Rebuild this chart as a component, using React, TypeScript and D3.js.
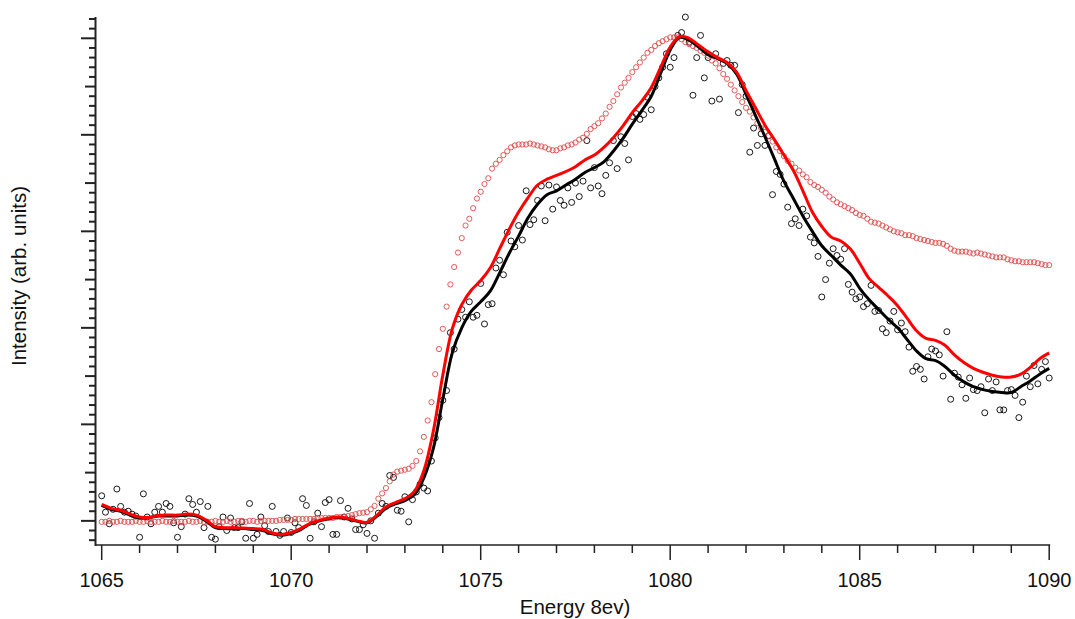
import { useRef, useEffect } from 'react';
import * as d3 from 'd3';

// energy grid: scatter points every 0.1 eV, fitted lines every 0.25 eV
const E_START = 1065;
const xTicksMajor = [1065, 1070, 1075, 1080, 1085, 1090];

// measured spectrum (black open circles)
const sampleCounts = [
  0.26, 0.09, -0.03, 0.12, 0.33, 0.15, 0.09, 0.10, 0.07, 0.05,
  -0.17, 0.28, 0.04, -0.03, 0.09, 0.15, 0.09, 0.18, 0.15, -0.02,
  -0.17, -0.06, 0.07, 0.23, 0.17, 0.09, 0.20, -0.07, 0.15, -0.17,
  -0.19, -0.06, 0.04, -0.10, 0.03, -0.07, -0.07, -0.01, -0.18, 0.18,
  -0.18, -0.14, 0.04, -0.05, -0.11, 0.15, -0.11, -0.15, -0.11, 0.03,
  -0.12, -0.02, -0.07, 0.23, 0.16, -0.18, -0.01, 0.08, -0.06, 0.19,
  0.22, -0.14, -0.14, 0.21, 0.04, 0.13, 0.02, -0.09, -0.09, -0.04,
  -0.13, 0.00, -0.18, 0.08, 0.18, 0.15, 0.47, 0.45, 0.11, 0.10,
  0.25, -0.01, 0.22, 0.30, 0.38, 0.34, 0.31, 0.62, 0.86, 1.07,
  1.25, 1.35, 1.95, 1.78, 2.09, 2.19, 2.11, 2.27, 2.11, 2.13,
  2.46, 2.04, 2.24, 2.25, 2.62, 2.70, 2.55, 2.99, 2.90, 2.84,
  3.06, 2.91, 3.42, 3.07, 3.12, 3.32, 3.47, 3.11, 3.48, 3.23,
  3.46, 3.32, 3.27, 3.45, 3.30, 3.50, 3.36, 3.52, 3.94, 3.45,
  3.66, 3.47, 3.39, 3.58, 3.71, 3.94, 3.65, 3.98, 3.91, 3.74,
  4.19, 4.22, 4.16, 4.21, 4.39, 4.26, 4.50, 4.59, 4.70, 4.84,
  4.70, 4.80, 5.03, 5.06, 5.22, 4.96, 4.41, 4.80, 5.03, 4.59,
  4.80, 4.35, 4.84, 4.37, 4.74, 4.77, 4.72, 4.72, 4.23, 4.52,
  4.40, 3.82, 4.07, 3.89, 4.01, 3.89, 3.99, 3.38, 3.62, 3.59,
  3.49, 3.25, 3.08, 3.13, 3.06, 3.23, 3.16, 2.94, 2.88, 2.74,
  2.32, 2.50, 2.67, 2.82, 2.75, 2.71, 2.82, 2.45, 2.37, 2.30,
  2.32, 2.22, 2.25, 2.44, 2.17, 2.18, 1.99, 1.95, 2.07, 2.17,
  1.98, 2.05, 1.96, 1.80, 1.55, 1.60, 1.57, 1.47, 1.70, 1.78,
  1.76, 1.72, 1.50, 1.96, 1.26, 1.53, 1.49, 1.41, 1.27, 1.48,
  1.36, 1.35, 1.39, 1.12, 1.47, 1.35, 1.44, 1.15, 1.15, 1.35,
  1.36, 1.30, 1.07, 1.23, 1.50, 1.39, 1.61, 1.42, 1.57, 1.65,
  1.48,
];

// reference spectrum (red open circles)
const referenceCounts = [
  -0.01, -0.01, 0.00, -0.01, -0.01, 0.00, -0.01, -0.01, -0.01, 0.00,
  -0.01, -0.01, 0.00, -0.01, -0.01, -0.01, 0.00, -0.01, -0.01, 0.00,
  -0.01, -0.01, -0.01, 0.00, -0.01, -0.01, 0.00, -0.01, -0.01, -0.01,
  0.00, -0.01, -0.01, 0.00, -0.01, -0.01, 0.00, 0.00, -0.01, 0.00,
  0.00, -0.01, 0.00, 0.00, 0.00, 0.00, 0.00, 0.01, 0.01, 0.01,
  0.01, 0.02, 0.02, 0.02, 0.02, 0.02, 0.02, 0.03, 0.03, 0.03,
  0.03, 0.03, 0.04, 0.04, 0.04, 0.05, 0.06, 0.07, 0.08, 0.085,
  0.09, 0.12, 0.155, 0.23, 0.285, 0.34, 0.41, 0.48, 0.51, 0.52,
  0.53, 0.54, 0.57, 0.62, 0.72, 0.87, 1.04, 1.23, 1.52, 1.78,
  1.99, 2.22, 2.45, 2.63, 2.78, 2.93, 3.06, 3.13, 3.24, 3.34,
  3.41, 3.49, 3.55, 3.65, 3.70, 3.74, 3.79, 3.83, 3.87, 3.89,
  3.90, 3.90, 3.90, 3.91, 3.90, 3.89, 3.88, 3.87, 3.85, 3.84,
  3.84, 3.86, 3.87, 3.89, 3.90, 3.92, 3.95, 3.97, 4.01, 4.06,
  4.09, 4.12, 4.17, 4.22, 4.29, 4.35, 4.42, 4.49, 4.54, 4.59,
  4.65, 4.70, 4.75, 4.80, 4.85, 4.88, 4.92, 4.95, 4.97, 4.99,
  5.01, 5.01, 5.01, 4.99, 4.96, 4.94, 4.92, 4.90, 4.87, 4.85,
  4.82, 4.77, 4.74, 4.69, 4.63, 4.58, 4.52, 4.46, 4.40, 4.34,
  4.28, 4.24, 4.18, 4.12, 4.07, 4.03, 3.99, 3.93, 3.87, 3.83,
  3.78, 3.73, 3.70, 3.66, 3.63, 3.59, 3.56, 3.51, 3.48, 3.46,
  3.43, 3.40, 3.36, 3.33, 3.30, 3.28, 3.26, 3.24, 3.22, 3.19,
  3.17, 3.16, 3.13, 3.10, 3.09, 3.08, 3.06, 3.04, 3.02, 3.00,
  2.99, 2.98, 2.96, 2.96, 2.95, 2.93, 2.92, 2.91, 2.90, 2.89,
  2.88, 2.88, 2.87, 2.85, 2.82, 2.80, 2.79, 2.79, 2.79, 2.78,
  2.77, 2.78, 2.77, 2.76, 2.75, 2.74, 2.73, 2.73, 2.73, 2.71,
  2.70, 2.69, 2.69, 2.68, 2.68, 2.68, 2.68, 2.67, 2.66, 2.65,
  2.65,
];

// smoothed fit of the measured spectrum (black line)
const sampleFit = [
  0.16, 0.12, 0.10, 0.06, 0.03, 0.035, 0.05, 0.05, 0.05, 0.06,
  0.05, 0.00, -0.07, -0.08, -0.08, -0.08, -0.09, -0.10, -0.135, -0.15,
  -0.13, -0.09, -0.03, 0.00, 0.025, 0.035, 0.02, -0.005, -0.02, 0.045,
  0.13, 0.175, 0.21, 0.27, 0.445, 0.75, 1.26, 1.74, 2.00, 2.17,
  2.27, 2.38, 2.57, 2.77, 2.95, 3.14, 3.28, 3.38, 3.42, 3.48,
  3.54, 3.61, 3.66, 3.72, 3.83, 3.96, 4.11, 4.25, 4.40, 4.64,
  4.88, 5.01, 4.98, 4.91, 4.83, 4.79, 4.74, 4.63, 4.42, 4.20,
  3.98, 3.75, 3.52, 3.34, 3.16, 3.00, 2.85, 2.75, 2.65, 2.56,
  2.41, 2.29, 2.19, 2.09, 2.00, 1.88, 1.76, 1.68, 1.66, 1.60,
  1.51, 1.44, 1.39, 1.36, 1.34, 1.33, 1.33, 1.39, 1.45, 1.52,
  1.58,
];

// smoothed fit, second curve (red line)
const referenceFit = [
  0.17, 0.13, 0.11, 0.07, 0.04, 0.035, 0.055, 0.06, 0.06, 0.07,
  0.06, 0.01, -0.06, -0.07, -0.07, -0.075, -0.08, -0.09, -0.125, -0.14,
  -0.12, -0.08, -0.025, 0.005, 0.03, 0.04, 0.025, 0.00, -0.015, 0.055,
  0.145, 0.19, 0.23, 0.305, 0.52, 0.93, 1.51, 1.99, 2.24, 2.39,
  2.49, 2.62, 2.82, 3.02, 3.20, 3.35, 3.48, 3.54, 3.58, 3.62,
  3.67, 3.74, 3.79, 3.87, 3.97, 4.09, 4.23, 4.35, 4.49, 4.70,
  4.91, 5.02, 5.00, 4.93, 4.86, 4.80, 4.75, 4.65, 4.46, 4.28,
  4.10, 3.95, 3.79, 3.63, 3.42, 3.20, 3.05, 2.94, 2.90, 2.82,
  2.67, 2.51, 2.42, 2.33, 2.23, 2.10, 1.97, 1.89, 1.87, 1.82,
  1.72, 1.64, 1.58, 1.54, 1.51, 1.49, 1.49, 1.52, 1.59, 1.68,
  1.74,
];

const W = 1075;
const H = 619;

export default function App() {
  const svgRef = useRef<SVGSVGElement>(null);

  useEffect(() => {
    const svg = d3.select(svgRef.current);
    svg.selectAll('*').remove();

    const x = d3.scaleLinear().domain([1065, 1090]).range([101.7, 1049.2]);
    const y = d3.scaleLinear().domain([-0.25, 5.2]).range([545, 19]);

    const pts = (vals: number[], step: number) =>
      vals.map((v, i) => ({ e: E_START + i * step, v }));

    // Y axis: no labels, three tick lengths
    const yTicks = d3.range(-2, 53).map(i => i / 10);
    const yAxis = svg.append('g');
    yAxis.append('line')
      .attr('x1', 95.5).attr('x2', 95.5)
      .attr('y1', 17).attr('y2', 546)
      .attr('stroke', '#222').attr('stroke-width', 2);
    yAxis.selectAll('line.t')
      .data(yTicks)
      .join('line')
      .attr('class', 't')
      .attr('x1', d => {
        const k = Math.round(d * 10);
        if (k % 10 === 0) return 81;
        if (k % 5 === 0) return 85;
        return 89;
      })
      .attr('x2', 95.5)
      .attr('y1', d => y(d))
      .attr('y2', d => y(d))
      .attr('stroke', '#222')
      .attr('stroke-width', 2);

    // X axis
    const xAxis = svg.append('g');
    xAxis.append('line')
      .attr('x1', 95.5).attr('x2', x(1090) + 1)
      .attr('y1', 545).attr('y2', 545)
      .attr('stroke', '#222').attr('stroke-width', 1.5);
    xAxis.selectAll('line.t')
      .data(d3.range(1065, 1091))
      .join('line')
      .attr('class', 't')
      .attr('x1', d => x(d)).attr('x2', d => x(d))
      .attr('y1', 545)
      .attr('y2', d => (d % 5 === 0 ? 560 : 553))
      .attr('stroke', '#222')
      .attr('stroke-width', 1.5);
    xAxis.selectAll('text')
      .data(xTicksMajor)
      .join('text')
      .attr('x', d => x(d))
      .attr('y', 587)
      .attr('text-anchor', 'middle')
      .attr('font-family', 'Liberation Sans, Arial, sans-serif')
      .attr('font-size', 20)
      .attr('fill', '#111')
      .text(d => d);

    svg.append('text')
      .attr('x', 575)
      .attr('y', 614)
      .attr('text-anchor', 'middle')
      .attr('font-family', 'Liberation Sans, Arial, sans-serif')
      .attr('font-size', 20.5)
      .attr('fill', '#111')
      .text('Energy 8ev)');

    svg.append('text')
      .attr('transform', 'translate(26,276) rotate(-90)')
      .attr('text-anchor', 'middle')
      .attr('font-family', 'Liberation Sans, Arial, sans-serif')
      .attr('font-size', 20.5)
      .attr('fill', '#111')
      .text('Intensity (arb. units)');

    // scatter: measured
    svg.append('g')
      .selectAll('circle')
      .data(pts(sampleCounts, 0.1))
      .join('circle')
      .attr('cx', d => x(d.e))
      .attr('cy', d => y(d.v))
      .attr('r', 3)
      .attr('fill', 'none')
      .attr('stroke', '#000')
      .attr('stroke-width', 0.9);

    // scatter: reference
    svg.append('g')
      .selectAll('circle')
      .data(pts(referenceCounts, 0.1))
      .join('circle')
      .attr('cx', d => x(d.e))
      .attr('cy', d => y(d.v))
      .attr('r', 2.6)
      .attr('fill', 'none')
      .attr('stroke', '#e04848')
      .attr('stroke-width', 0.9);

    const line = d3.line<{ e: number; v: number }>()
      .x(d => x(d.e))
      .y(d => y(d.v))
      .curve(d3.curveCatmullRom.alpha(0.5));

    svg.append('path')
      .datum(pts(sampleFit, 0.25))
      .attr('d', line)
      .attr('fill', 'none')
      .attr('stroke', '#000')
      .attr('stroke-width', 3);

    svg.append('path')
      .datum(pts(referenceFit, 0.25))
      .attr('d', line)
      .attr('fill', 'none')
      .attr('stroke', '#ff0000')
      .attr('stroke-width', 3);
  }, []);

  return (
    <svg
      ref={svgRef}
      width={W}
      height={H}
      style={{ position: 'absolute', left: 0, top: 0, background: '#fff' }}
    />
  );
}
